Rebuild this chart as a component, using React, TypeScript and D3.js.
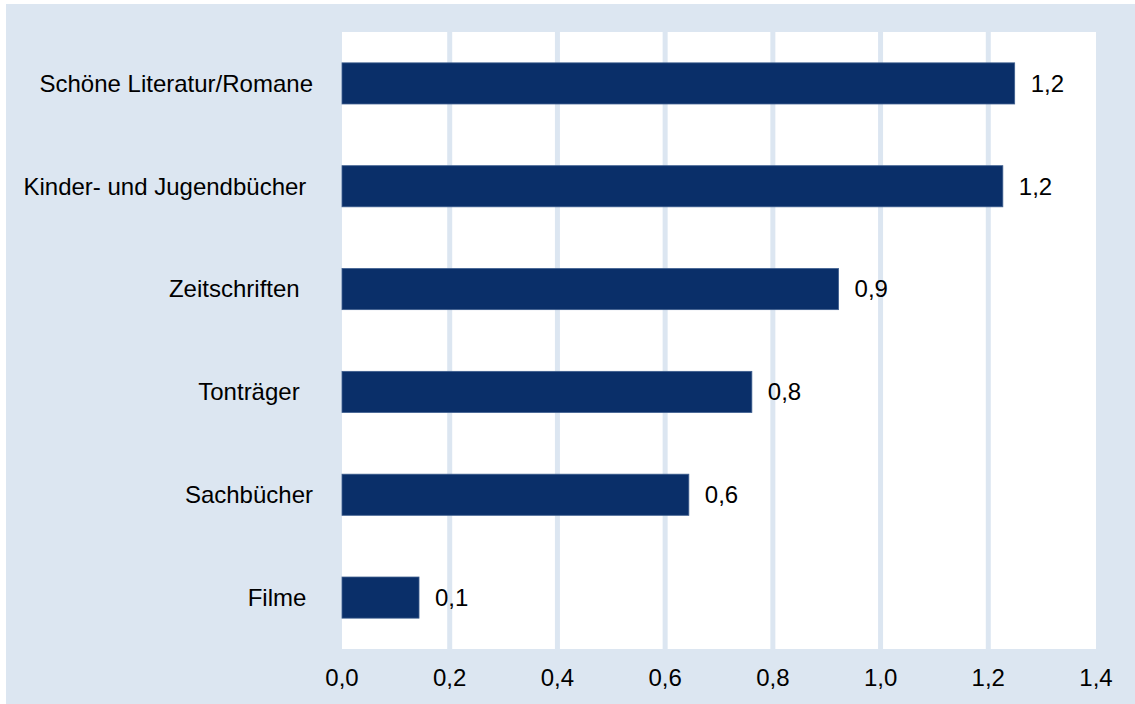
import React, { useEffect, useRef } from "react";
import * as d3 from "d3";

// categories (trailing spaces are kept as in the original labels)
const categories = [
  "Schöne Literatur/Romane",
  "Kinder- und Jugendbücher ",
  "Zeitschriften  ",
  "Tonträger  ",
  "Sachbücher",
  "Filme ",
];
const values = [1.249, 1.227, 0.922, 0.761, 0.644, 0.143];
const xTicks = [0, 0.2, 0.4, 0.6, 0.8, 1.0, 1.2, 1.4];

const fmt = (v: number) => d3.format(".1f")(v).replace(".", ",");

export default function App() {
  const ref = useRef<SVGSVGElement>(null);

  useEffect(() => {
    const width = 1135;
    const height = 704;
    const plot = { left: 342, right: 1096, top: 32, bottom: 649 };
    const font = "Arial, 'Liberation Sans', sans-serif";
    const fontSize = 24;

    const svg = d3.select(ref.current).attr("width", width).attr("height", height);
    svg.selectAll("*").remove();

    // background
    svg.append("rect")
      .attr("x", 6).attr("y", 4)
      .attr("width", width - 6).attr("height", height - 4)
      .attr("fill", "#dce6f1");

    svg.append("rect")
      .attr("x", plot.left).attr("y", plot.top)
      .attr("width", plot.right - plot.left).attr("height", plot.bottom - plot.top)
      .attr("fill", "#ffffff");

    const xScale = d3.scaleLinear().domain([0, 1.4]).range([plot.left, plot.right]);
    const yScale = d3.scaleBand().domain(categories).range([plot.top, plot.bottom]).paddingInner(0.6).paddingOuter(0.3);

    // grid
    svg.append("g").selectAll("line")
      .data(xTicks.filter(t => t > 0 && t < 1.4))
      .join("line")
      .attr("x1", d => xScale(d)).attr("x2", d => xScale(d))
      .attr("y1", plot.top).attr("y2", plot.bottom)
      .attr("stroke", "#dce6f1").attr("stroke-width", 5);

    // bars
    svg.append("g").selectAll("rect")
      .data(values)
      .join("rect")
      .attr("x", xScale(0))
      .attr("y", (d, i) => yScale(categories[i])!)
      .attr("width", d => xScale(d) - xScale(0))
      .attr("height", yScale.bandwidth())
      .attr("fill", "#0a2f69")
      .attr("stroke", "#3f5f8f").attr("stroke-width", 0.8);

    // value labels
    svg.append("g").selectAll("text")
      .data(values)
      .join("text")
      .attr("x", d => xScale(d) + 16)
      .attr("y", (d, i) => yScale(categories[i])! + yScale.bandwidth() / 2)
      .attr("dy", "0.35em")
      .attr("font-family", font).attr("font-size", fontSize)
      .attr("fill", "#000")
      .text(d => fmt(d));

    // category labels
    svg.append("g").selectAll("text")
      .data(categories)
      .join("text")
      .attr("x", 313)
      .attr("y", d => yScale(d)! + yScale.bandwidth() / 2)
      .attr("dy", "0.35em")
      .attr("text-anchor", "end")
      .attr("font-family", font).attr("font-size", fontSize)
      .style("white-space", "pre")
      .attr("fill", "#000")
      .text(d => d);

    // x tick labels
    svg.append("g").selectAll("text")
      .data(xTicks)
      .join("text")
      .attr("x", d => xScale(d))
      .attr("y", 678)
      .attr("dy", "0.35em")
      .attr("text-anchor", "middle")
      .attr("font-family", font).attr("font-size", fontSize)
      .attr("fill", "#000")
      .text(d => fmt(d));
  }, []);

  return (
    <div style={{ position: "absolute", left: 0, top: 0 }}>
      <svg ref={ref} style={{ display: "block" }} />
    </div>
  );
}
